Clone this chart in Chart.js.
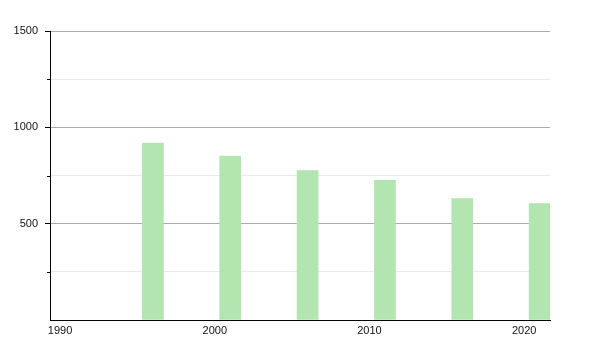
<!DOCTYPE html>
<html>
<head>
<meta charset="utf-8">
<script src="https://cdn.jsdelivr.net/npm/chart.js@4"></script>
<style>
html,body{margin:0;padding:0;background:#fff;}
#wrap{width:600px;height:350px;}
</style>
</head>
<body>
<div id="wrap"><canvas id="c" width="600" height="350"></canvas></div>
<script>
const years = [1996, 2001, 2006, 2011, 2016, 2021];
const population = [918, 851, 776, 725, 630, 604];
const xTicks = [1990, 2000, 2010, 2020];
const yMajor = [500, 1000, 1500];

const minorTicks = {
  id: 'minorTicks',
  afterDraw(chart) {
    const y = chart.scales.y, ctx = chart.ctx;
    ctx.save();
    ctx.strokeStyle = '#000';
    ctx.lineWidth = 1;
    y.ticks.forEach(t => {
      if (t.value % 500 !== 0) {
        const py = Math.round(y.getPixelForValue(t.value)) + 0.5;
        ctx.beginPath();
        ctx.moveTo(y.right - 3, py);
        ctx.lineTo(y.right, py);
        ctx.stroke();
      }
    });
    ctx.restore();
  }
};

new Chart(document.getElementById('c'), {
  type: 'bar',
  data: {
    datasets: [{
      data: years.map((yr, i) => ({x: yr, y: population[i]})),
      backgroundColor: '#b2e5b0',
      borderWidth: 0,
      barThickness: 21
    }]
  },
  plugins: [minorTicks],
  options: {
    responsive: false,
    animation: false,
    layout: {padding: {top: 31, right: 50, left: 0, bottom: 0}},
    plugins: {legend: {display: false}, tooltip: {enabled: false}},
    scales: {
      x: {
        type: 'linear',
        offset: false,
        min: 1989.35,
        max: 2021.67,
        afterBuildTicks: s => { s.ticks = xTicks.map(v => ({value: v})); },
        afterFit: s => { s.height = 30; },
        grid: {display: false, drawTicks: false},
        border: {display: true, color: '#000', width: 1},
        ticks: {
          padding: 4,
          maxRotation: 0,
          autoSkip: false,
          color: '#111',
          font: {family: 'Liberation Sans, Arial, sans-serif', size: 11},
          callback: v => String(v)
        }
      },
      y: {
        min: 0,
        max: 1500,
        afterBuildTicks: s => {
          const t = [];
          for (let v = 0; v <= 1500; v += 250) t.push({value: v});
          s.ticks = t;
        },
        afterFit: s => { s.width = 50; },
        grid: {
          color: c => (c.tick && c.tick.value === 0) ? 'rgba(0,0,0,0)' : (yMajor.includes(c.tick.value) ? '#ababab' : '#e9e9e9'),
          tickColor: c => (c.tick && yMajor.includes(c.tick.value)) ? '#000' : 'rgba(0,0,0,0)',
          tickLength: 5
        },
        border: {display: true, color: '#000', width: 1},
        ticks: {
          padding: 7,
          color: '#111',
          font: {family: 'Liberation Sans, Arial, sans-serif', size: 11},
          callback: v => yMajor.includes(v) ? String(v) : ''
        }
      }
    }
  }
});
</script>
</body>
</html>
